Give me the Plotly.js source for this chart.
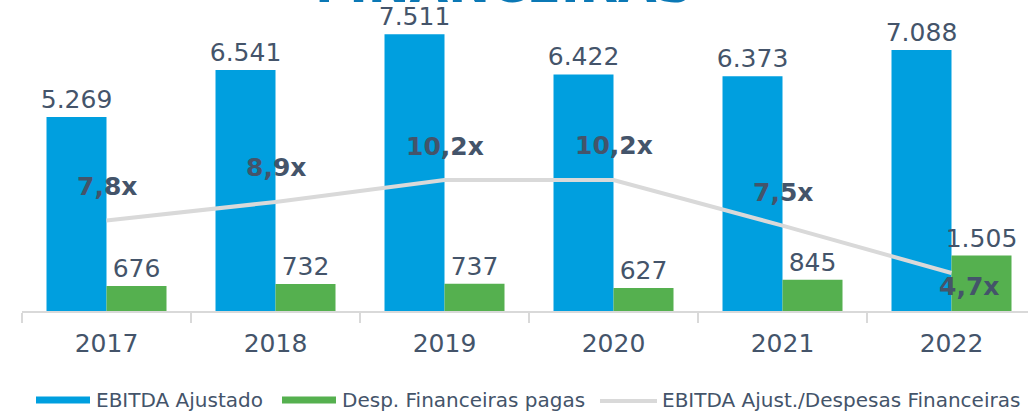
<!DOCTYPE html>
<html>
<head>
<meta charset="utf-8">
<script src="https://cdn.plot.ly/plotly-3.0.1.min.js"></script>
<style>html,body{margin:0;padding:0;background:#fff;}#chart{width:1028px;height:412px;}</style>
</head>
<body>
<div id="chart"></div>
<script>
const years = ['2017', '2018', '2019', '2020', '2021', '2022'];
const ebitda = [5269, 6541, 7511, 6422, 6373, 7088];
const despesas = [676, 732, 737, 627, 845, 1505];
const ratio = [7.8, 8.9, 10.2, 10.2, 7.5, 4.7];
const seriesNames = ['EBITDA Ajustado', 'Desp. Financeiras pagas', 'EBITDA Ajust./Despesas Financeiras'];
const titleText = 'FINANCEIRAS';

const BLUE = '#009FDF', GREEN = '#55B04F', GREY = '#D9D9D9', TXT = '#44546A';
const FONT = 'DejaVu Sans, Verdana, sans-serif';

function fmtThousands(n) { return String(n).replace(/\B(?=(\d{3})+(?!\d))/g, '.'); }
function fmtRatio(v) { return v.toFixed(1).replace('.', ',') + 'x'; }

// plot area in pixels
const W = 1028, H = 412;
const L = 22, R = 0, T = 20, B = 101;
const plotW = W - L - R, plotH = H - T - B;
const px2x = p => (p - L) / plotW;
const px2y = p => (H - B - p) / plotH;

const traces = [
  {type: 'bar', x: years, y: ebitda, name: seriesNames[0], marker: {color: BLUE},
   text: ebitda.map(fmtThousands), textposition: 'outside', cliponaxis: false,
   textfont: {family: FONT, size: 25, color: TXT}},
  {type: 'bar', x: years, y: despesas, name: seriesNames[1], marker: {color: GREEN},
   text: despesas.map(fmtThousands), textposition: 'outside', cliponaxis: false,
   textfont: {family: FONT, size: 25, color: TXT}},
  {type: 'scatter', mode: 'lines', x: years, y: ratio, yaxis: 'y2', name: seriesNames[2],
   line: {color: GREY, width: 4}}
];

const labelOffsets = [[0, 34], [0, 34], [0, 34], [0, 35], [0, 33], [17, -14]];
const annotations = ratio.map((v, i) => ({
  x: i, y: v, xref: 'x', yref: 'y2', text: '<b>' + fmtRatio(v) + '</b>', showarrow: false,
  xanchor: 'center', yanchor: 'middle',
  xshift: labelOffsets[i][0], yshift: labelOffsets[i][1],
  font: {family: FONT, size: 25, color: TXT}
}));

// title (cut off at top)
annotations.push({
  x: px2x(504), y: px2y(-15), xref: 'paper', yref: 'paper', xanchor: 'center', yanchor: 'middle',
  text: '<b>' + titleText + '</b>', showarrow: false,
  font: {family: FONT, size: 50, color: '#0B78B5'}
});

// custom legend
const legendY = 400;
const legendItems = [
  {x0: 36, x1: 90, tx: 94, kind: 'rect', color: BLUE},
  {x0: 282, x1: 336, tx: 340, kind: 'rect', color: GREEN},
  {x0: 600, x1: 657, tx: 660, kind: 'line', color: GREY}
];
const shapes = [];
legendItems.forEach((it, i) => {
  if (it.kind === 'rect') {
    shapes.push({type: 'rect', xref: 'paper', yref: 'paper', x0: px2x(it.x0), x1: px2x(it.x1),
      y0: px2y(legendY - 3.5), y1: px2y(legendY + 3.5), fillcolor: it.color, line: {width: 0}});
  } else {
    shapes.push({type: 'line', xref: 'paper', yref: 'paper', x0: px2x(it.x0), x1: px2x(it.x1),
      y0: px2y(legendY + 1), y1: px2y(legendY + 1), line: {color: it.color, width: 4}});
  }
  annotations.push({x: px2x(it.tx), y: px2y(legendY), xref: 'paper', yref: 'paper',
    xanchor: 'left', yanchor: 'middle', text: seriesNames[i], showarrow: false,
    font: {family: FONT, size: 20, color: TXT}});
});

const layout = {
  width: W, height: H,
  margin: {l: L, r: R, t: T, b: B, pad: 0},
  paper_bgcolor: '#fff', plot_bgcolor: '#fff',
  showlegend: false,
  barmode: 'group', bargap: 0.29, bargroupgap: 0,
  uniformtext: {mode: false},
  font: {family: FONT, color: TXT},
  xaxis: {type: 'category', range: [-0.5, -0.5 + plotW / 169], showgrid: false, zeroline: false,
    showline: true, linecolor: GREY, linewidth: 1.5, ticks: 'outside', tickson: 'boundaries',
    ticklen: 10, tickcolor: GREY, tickwidth: 1.5, ticklabelstandoff: 9,
    tickfont: {family: FONT, size: 25, color: TXT}},
  yaxis: {range: [0, plotH / 0.03684], visible: false, showgrid: false, zeroline: false, fixedrange: true},
  yaxis2: {overlaying: 'y', side: 'right', range: [2.45, 2.45 + plotH / 16.9], visible: false,
    showgrid: false, zeroline: false},
  annotations: annotations,
  shapes: shapes
};
traces[0].constraintext = 'none';
traces[1].constraintext = 'none';

Plotly.newPlot('chart', traces, layout, {staticPlot: true, displayModeBar: false});
</script>
</body>
</html>
